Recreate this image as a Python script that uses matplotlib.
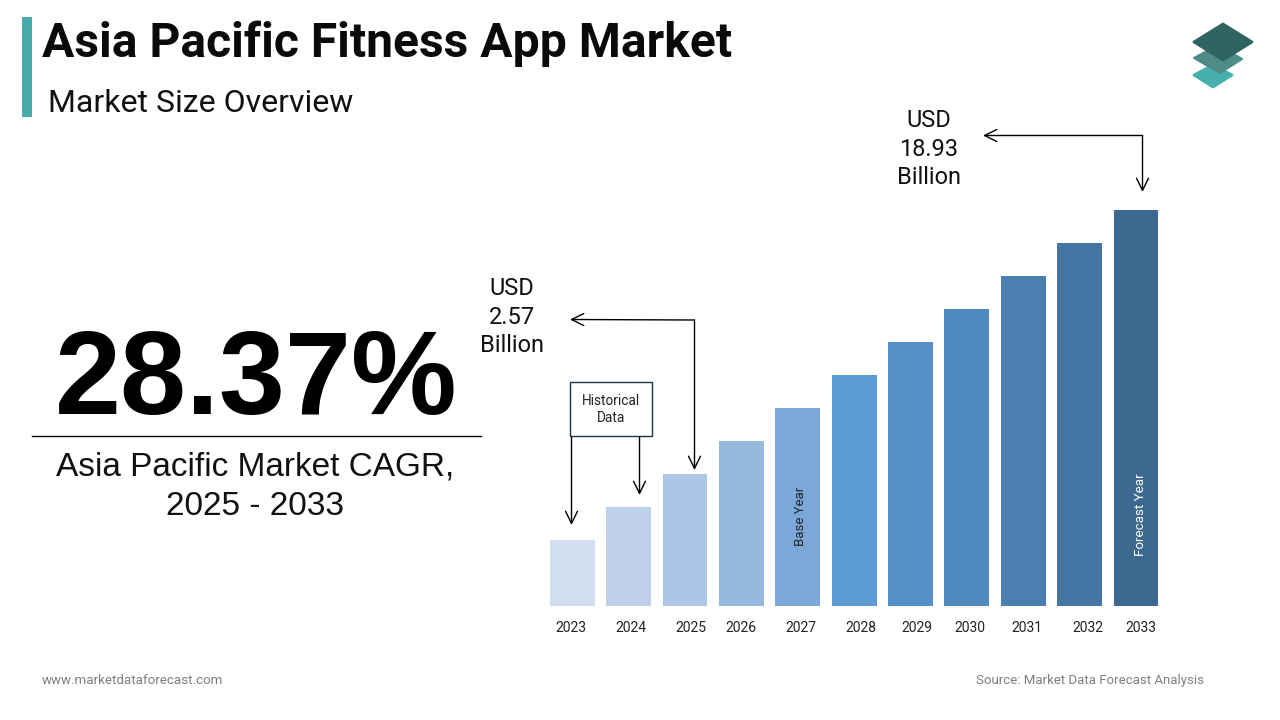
import matplotlib
matplotlib.use("Agg")
import matplotlib.pyplot as plt
from matplotlib.patches import Polygon, Rectangle

plt.rcParams['font.family'] = ['Roboto', 'DejaVu Sans']

years = [2023, 2024, 2025, 2026, 2027, 2028, 2029, 2030, 2031, 2032, 2033]
# bar heights are only illustrative in the picture, equal steps
sizes = [2, 3, 4, 5, 6, 7, 8, 9, 10, 11, 12]
colors = ['#D2DEEF', '#BFD1E9', '#ADC6E5', '#98B9DE', '#7CA8D9', '#5C9AD6',
          '#5690C8', '#5089BD', '#4B7FB0', '#4475A3', '#3C678F']
label_x = [571, 631, 691, 741, 801, 861, 917, 970, 1027, 1088, 1141]

fig = plt.figure(figsize=(12.8, 7.2), dpi=100, facecolor='white')

# bars axes: bottom at y=606, one unit = 33 px
bar_ax = fig.add_axes([544.1 / 1280, (720 - 606) / 720, 620 / 1280, 396 / 720])
bar_ax.bar(range(len(years)), sizes, width=0.795, color=colors)
bar_ax.set_xlim(-0.5, 10.5)
bar_ax.set_ylim(0, 12)
bar_ax.axis("off")

# full figure axes in pixels for the text and arrows, on top of the bars
bg = fig.add_axes([0, 0, 1, 1])
bg.set_xlim(0, 1280)
bg.set_ylim(720, 0)
bg.axis("off")

# header
bg.add_patch(Rectangle((22, 17), 10, 100, color='#45ACAB', lw=0))
bg.text(42, 57, "Asia Pacific Fitness App Market", fontsize=34.55, fontweight='bold', va='baseline', color='#0a0a0a')
bg.text(48, 111.5, "Market Size Overview", fontsize=23, va='baseline', color='#111111')

# left side
bg.text(256, 414, "28.37%", fontsize=85.5, fontweight='bold', family='Liberation Sans', ha='center', va='baseline', color='black')
bg.plot([32, 481], [436, 436], color='black', lw=1)
bg.text(255.5, 475, "Asia Pacific Market CAGR,", fontsize=24, family='Liberation Sans', ha='center', va='baseline', color='#111111')
bg.text(255.5, 515, "2025 - 2033", fontsize=24, family='Liberation Sans', ha='center', va='baseline', color='#111111')

# year labels
for x, y in zip(label_x, years):
    bg.text(x, 632.5, str(y), fontsize=10, ha='center', va='baseline', color='#222222')

bg.text(800.5, 516, "Base Year", rotation=90, fontsize=9.5, ha='center', va='center', color='#222222')
bg.text(1140, 515, "Forecast Year", rotation=90, fontsize=9.6, ha='center', va='center', color='white')

# callouts
bg.text(512, 317, "USD\n2.57\nBillion", fontsize=17, ha='center', va='center', linespacing=1.29, color='#111111')
bg.text(929, 149, "USD\n18.93\nBillion", fontsize=17, ha='center', va='center', linespacing=1.29, color='#111111')

arrow = dict(arrowstyle='->,head_length=0.55,head_width=0.27', color='black', lw=1,
             mutation_scale=16, shrinkA=0, shrinkB=0)
bg.annotate("", xy=(570, 319.5), xytext=(694.5, 320), arrowprops=arrow)
bg.annotate("", xy=(694.5, 470), xytext=(694.5, 320), arrowprops=arrow)
bg.annotate("", xy=(983, 135.5), xytext=(1142.5, 135.5), arrowprops=arrow)
bg.annotate("", xy=(1142.5, 192), xytext=(1142.5, 135.5), arrowprops=arrow)

# historical data box
bg.add_patch(Rectangle((570, 382), 82, 54, fc='white', ec='#1F3448', lw=1, zorder=3))
bg.text(611, 409.5, "Historical\nData", fontsize=9.8, ha='center', va='center', linespacing=1.3, color='#222222', zorder=4)
bg.annotate("", xy=(571.5, 525), xytext=(571.5, 437), arrowprops=arrow)
bg.annotate("", xy=(639.5, 495), xytext=(639.5, 437), arrowprops=arrow)

# logo
bg.add_patch(Polygon([(1194, 75), (1213, 65), (1232, 75), (1213, 87)], fc='#45B0AE', ec='#45B0AE', lw=2, joinstyle='round'))
bg.add_patch(Polygon([(1194, 58), (1218, 45), (1242, 59), (1220, 73)], fc='#4F8B88', ec='#4F8B88', lw=1.5, joinstyle='round'))
bg.add_patch(Polygon([(1194, 42), (1223, 24), (1252, 42), (1223, 60)], fc='#2E6461', ec='#2E6461', lw=2, joinstyle='round'))

# footer
bg.text(42, 684, "www.marketdataforecast.com", fontsize=9.65, va='baseline', color='#7f7f7f')
bg.text(1204, 684, "Source: Market Data Forecast Analysis", fontsize=9.55, ha='right', va='baseline', color='#7f7f7f')

fig.savefig("out.png", dpi=100)
